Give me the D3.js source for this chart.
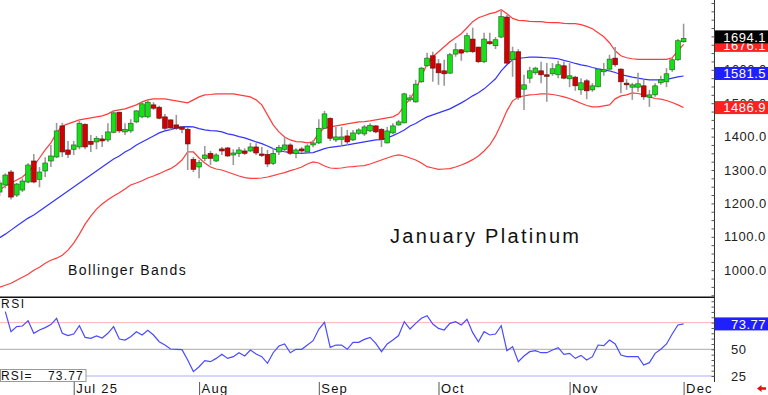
<!DOCTYPE html>
<html>
<head>
<meta charset="utf-8">
<script src="https://cdn.jsdelivr.net/npm/d3@7"></script>
<style>
  html, body { margin: 0; padding: 0; background: #fff; }
  svg { display: block; font-family: "Liberation Sans", Arial, sans-serif; }
</style>
</head>
<body>
<svg id="chart" width="768" height="395"></svg>
<script>
// bars run from index -1 (half hidden at the left edge) to 119 (Dec 1)
const firstIdx = -1;

const openP = [1234,1255,1294,1225,1240,1264,1327,1272,1297,1327,
  1339,1432,1360,1362,1369,1437,1386,1384,1393,1390,
  1413,1473,1414,1417,1444,1459,1459,1495,1488,1459,
  1450,1435,1429,1422,1332,1309,1335,1350,1327,1363,
  1366,1345,1350,1357,1357,1369,1348,1347,1320,1354,
  1362,1375,1350,1363,1354,1375,1381,1425,1455,1390,
  1392,1402,1390,1410,1408,1417,1432,1422,1381,1411,
  1435,1441,1510,1504,1564,1612,1642,1618,1597,1590,
  1647,1660,1654,1692,1668,1624,1684,1672,1698,1758,
  1630,1654,1542,1575,1591,1597,1585,1588,1585,1612,
  1573,1578,1540,1567,1540,1549,1594,1602,1635,1602,
  1560,1548,1548,1552,1518,1525,1561,1564,1600,1630,
  1684];
const highP = [1270,1290,1300,1261,1275,1320,1348,1309,1338,1375,
  1441,1441,1387,1387,1447,1439,1405,1402,1405,1440,
  1480,1474,1440,1452,1479,1504,1510,1503,1492,1468,
  1451,1465,1431,1429,1339,1330,1372,1357,1350,1369,
  1369,1362,1369,1365,1381,1380,1369,1360,1365,1375,
  1399,1380,1365,1369,1377,1390,1452,1477,1457,1429,
  1429,1420,1420,1425,1435,1440,1435,1425,1429,1440,
  1450,1531,1525,1570,1609,1651,1654,1632,1630,1650,
  1680,1662,1711,1726,1669,1711,1711,1698,1777,1765,
  1669,1662,1585,1609,1609,1624,1620,1620,1627,1624,
  1620,1582,1575,1572,1560,1605,1620,1645,1668,1605,
  1572,1561,1591,1570,1540,1560,1582,1605,1635,1692,
  1738];
const lowP = [1222,1245,1212,1219,1234,1260,1260,1248,1279,1309,
  1336,1339,1336,1345,1362,1362,1354,1362,1369,1384,
  1410,1411,1405,1411,1440,1455,1455,1480,1452,1420,
  1420,1420,1410,1300,1294,1275,1327,1315,1324,1345,
  1339,1315,1339,1345,1354,1345,1339,1309,1315,1345,
  1354,1345,1335,1351,1351,1368,1378,1423,1387,1384,
  1375,1375,1387,1405,1402,1414,1410,1369,1380,1408,
  1432,1440,1504,1501,1561,1609,1564,1555,1552,1588,
  1639,1627,1651,1650,1620,1620,1675,1662,1695,1618,
  1579,1510,1480,1560,1585,1560,1504,1582,1575,1572,
  1548,1537,1525,1512,1534,1548,1582,1594,1609,1530,
  1540,1510,1534,1510,1489,1519,1555,1548,1594,1627,
  1681];
const closeP = [1261,1285,1219,1258,1267,1315,1264,1294,1321,1342,
  1417,1354,1347,1375,1440,1369,1377,1395,1387,1414,
  1471,1417,1422,1440,1477,1498,1503,1485,1455,1425,
  1426,1425,1422,1378,1302,1322,1345,1335,1345,1357,
  1342,1351,1360,1350,1369,1351,1344,1318,1350,1368,
  1375,1350,1360,1357,1372,1381,1425,1468,1395,1399,
  1399,1384,1411,1420,1429,1434,1414,1392,1417,1432,
  1444,1528,1516,1557,1605,1635,1605,1591,1588,1645,
  1660,1650,1702,1654,1624,1692,1678,1690,1759,1620,
  1654,1518,1555,1597,1605,1585,1582,1603,1615,1575,
  1582,1552,1561,1537,1552,1602,1600,1632,1615,1564,
  1555,1555,1558,1519,1525,1552,1570,1588,1630,1687,
  1694.1];

// Bollinger bands (20, 2), same bar indexing
const upperBand = [1240,1252,1261,1270,1279,1294,1312,1336,1360,1381,
  1411,1432,1438,1444,1450,1453,1456,1459,1462,1468,
  1477,1480,1483,1489,1495,1504,1510,1513,1513,1513,
  1510,1507,1504,1501,1510,1519,1525,1526,1528,1528,
  1528,1528,1525,1522,1519,1510,1495,1465,1435,1414,
  1399,1390,1385,1384,1381,1384,1411,1426,1429,1432,
  1435,1438,1441,1444,1445,1447,1450,1453,1456,1459,
  1468,1492,1513,1540,1579,1618,1639,1654,1669,1684,
  1696,1708,1726,1744,1756,1762,1768,1772,1780,1768,
  1754,1748,1747,1745,1744,1744,1742,1741,1741,1739,
  1738,1738,1735,1730,1723,1711,1699,1681,1657,1642,
  1636,1633,1631,1631,1631,1631,1631,1631,1636,1657,
  1676.1];
const midBand = [1097,1108,1120,1132,1144,1156,1165,1177,1189,1201,
  1213,1225,1237,1249,1261,1273,1285,1297,1309,1321,
  1333,1342,1354,1363,1375,1384,1393,1402,1411,1417,
  1421,1426,1429,1430,1429,1424,1420,1418,1417,1414,
  1408,1405,1400,1396,1390,1384,1379,1372,1364,1358,
  1355,1352,1351,1350,1351,1352,1358,1364,1368,1370,
  1372,1375,1378,1381,1384,1387,1390,1391,1396,1403,
  1411,1420,1432,1439,1450,1459,1465,1471,1477,1483,
  1492,1501,1511,1522,1531,1543,1558,1573,1597,1615,
  1630,1634,1636,1638,1638,1637,1636,1635,1633,1628,
  1624,1619,1615,1612,1607,1603,1600,1597,1592,1586,
  1582,1578,1575,1572,1570,1570,1570,1571,1575,1579,
  1581.5];
const lowerBand = [949,955,961,970,979,988,1000,1009,1021,1030,
  1036,1045,1060,1081,1108,1138,1162,1183,1198,1211,
  1222,1232,1243,1255,1261,1268,1276,1282,1289,1297,
  1304,1315,1330,1354,1354,1336,1321,1309,1303,1300,
  1294,1288,1282,1277,1275,1275,1276,1279,1283,1288,
  1292,1298,1303,1309,1318,1324,1321,1312,1306,1305,
  1306,1309,1310,1312,1313,1318,1324,1330,1336,1342,
  1345,1342,1336,1330,1321,1310,1306,1302,1303,1304,
  1309,1315,1322,1331,1342,1357,1375,1402,1438,1477,
  1507,1518,1522,1525,1526,1528,1528,1526,1523,1519,
  1514,1507,1500,1493,1489,1489,1492,1495,1513,1522,
  1525,1531,1529,1525,1519,1514,1512,1508,1502,1495,
  1486.9];

// RSI, bars 0..119
const rsi = [85.2,66.5,71.2,71.8,76.8,65.0,68.1,70.3,73.1,79.0,
  65.0,62.8,64.3,72.1,61.2,60.3,62.5,60.6,65.0,71.2,
  59.6,58.7,61.8,66.5,63.4,67.8,63.4,57.1,54.0,50.3,
  50.0,49.7,40.0,29.1,33.7,39.4,38.4,41.5,45.3,41.5,
  43.1,46.8,43.7,49.3,45.6,43.1,36.9,46.8,53.1,55.0,
  46.8,50.0,50.0,54.0,58.1,68.7,75.2,51.8,54.0,54.0,
  50.0,56.5,56.5,59.3,61.2,55.6,47.8,55.0,58.7,62.9,
  75.9,69.0,74.3,79.0,81.5,73.7,69.6,68.1,74.3,75.9,
  72.8,78.1,65.6,57.1,66.5,63.4,64.3,72.1,48.7,52.5,
  38.4,43.7,47.8,48.7,46.8,46.8,49.3,51.5,45.3,46.2,
  41.5,44.3,40.0,43.1,54.0,53.4,58.7,55.0,44.7,43.1,
  43.1,43.1,35.3,37.5,46.2,50.0,55.0,64.3,72.8,73.77];

const monthIdx = [12, 34, 55, 76, 99, 119];
const monthLabels = ["Jul 25", "Aug", "Sep", "Oct", "Nov", "Dec"];
const priceTicks = [1000, 1100, 1200, 1300, 1400, 1500, 1600, 1700];
const rsiTicks = [25, 50];

const svg = d3.select("#chart");
const plotRight = 714;
const mainBottom = 297;
const axisBottomY = 382;
const lastIdx = 119;

const x = d3.scaleLinear().domain([0, lastIdx]).range([5.3, 683.6]);
const y = d3.scaleLinear().domain([1000, 1700]).range([270.2, 36.4]);
const yR = d3.scaleLinear().domain([25, 75]).range([376, 322.6]);

const bars = openP.map((o, k) => ({
  i: k + firstIdx, open: o, high: highP[k], low: lowP[k], close: closeP[k]
}));

svg.append("defs").append("clipPath").attr("id", "mainClip")
  .append("rect").attr("x", 0).attr("y", 0).attr("width", plotRight).attr("height", mainBottom);

const main = svg.append("g").attr("clip-path", "url(#mainClip)");

// bands
const bandLine = d3.line().x((d, k) => x(k + firstIdx)).y(d => y(d));
main.append("path").datum(upperBand).attr("d", bandLine)
  .attr("fill", "none").attr("stroke", "#ff3c3c").attr("stroke-width", 1.2);
main.append("path").datum(lowerBand).attr("d", bandLine)
  .attr("fill", "none").attr("stroke", "#ff3c3c").attr("stroke-width", 1.2);
main.append("path").datum(midBand).attr("d", bandLine)
  .attr("fill", "none").attr("stroke", "#3434ff").attr("stroke-width", 1.2);

// candles
main.append("g").selectAll("line").data(bars).enter().append("line")
  .attr("x1", d => x(d.i)).attr("x2", d => x(d.i))
  .attr("y1", d => y(d.high)).attr("y2", d => y(d.low))
  .attr("stroke", "#9a9a9a").attr("stroke-width", 1.6);

main.append("g").selectAll("rect").data(bars).enter().append("rect")
  .attr("x", d => x(d.i) - 2.4)
  .attr("width", 4.8)
  .attr("y", d => y(Math.max(d.open, d.close)))
  .attr("height", d => Math.max(1.5, Math.abs(y(d.open) - y(d.close))))
  .attr("fill", d => d.close >= d.open ? "#16e016" : "#d40000")
  .attr("stroke", d => d.close >= d.open ? "#1d5a1d" : "#5a1010")
  .attr("stroke-width", 0.6);

main.append("text").attr("x", 68).attr("y", 275)
  .style("font-size", "14px").style("letter-spacing", "1.4px").attr("fill", "#111")
  .text("Bollinger Bands");
main.append("text").attr("x", 390).attr("y", 243)
  .style("font-size", "20px").style("letter-spacing", "2.3px").attr("fill", "#111")
  .text("January Platinum");

// RSI panel
svg.append("line").attr("x1", 0).attr("x2", plotRight).attr("y1", yR(75)).attr("y2", yR(75))
  .attr("stroke", "#ffb4b4").attr("stroke-width", 1);
svg.append("line").attr("x1", 0).attr("x2", plotRight).attr("y1", yR(50)).attr("y2", yR(50))
  .attr("stroke", "#aaaaaa").attr("stroke-width", 1);
svg.append("line").attr("x1", 86).attr("x2", plotRight).attr("y1", yR(25)).attr("y2", yR(25))
  .attr("stroke", "#d6d6fb").attr("stroke-width", 2);

svg.append("path").datum(rsi)
  .attr("d", d3.line().x((d, k) => x(k)).y(d => yR(d)))
  .attr("fill", "none").attr("stroke", "#4a4aff").attr("stroke-width", 1.2);

svg.append("text").attr("x", 1).attr("y", 308)
  .style("font-size", "12px").style("letter-spacing", "1.5px").attr("fill", "#111").text("RSI");

const rsiBox = svg.append("g");
rsiBox.append("rect").attr("x", 0.5).attr("y", 369.5).attr("width", 85.5).attr("height", 12)
  .attr("fill", "#fff").attr("stroke", "#999");
rsiBox.append("text").attr("x", 1).attr("y", 380)
  .style("font-size", "12px").style("letter-spacing", "1.2px").attr("fill", "#111").text("RSI=");
rsiBox.append("text").attr("x", 84).attr("y", 380).attr("text-anchor", "end")
  .style("font-size", "12px").style("letter-spacing", "1.2px").attr("fill", "#111")
  .text(d3.format(".2f")(rsi[rsi.length - 1]));

// separator and right axis line
svg.append("line").attr("x1", 0).attr("x2", plotRight).attr("y1", mainBottom + 0.3).attr("y2", mainBottom + 0.3)
  .attr("stroke", "#111").attr("stroke-width", 1.6);
svg.append("line").attr("x1", plotRight + 0.5).attr("x2", plotRight + 0.5).attr("y1", 0).attr("y2", axisBottomY)
  .attr("stroke", "#333").attr("stroke-width", 1);

// price axis: minor ticks + labels
const minorTicks = d3.range(925, 1826, 25);
const tickG = svg.append("g").attr("transform", `translate(${plotRight + 0.5},0)`)
  .call(d3.axisLeft(y).tickValues(minorTicks.filter(v => y(v) > 1 && y(v) < mainBottom))
    .tickSize(3).tickFormat(""));
tickG.select(".domain").remove();
tickG.selectAll("line").attr("stroke", "#555");

const labG = svg.append("g").attr("transform", `translate(${plotRight},0)`)
  .call(d3.axisRight(y).tickValues(priceTicks).tickSize(0).tickPadding(10).tickFormat(d3.format(".1f")));
labG.select(".domain").remove();
labG.selectAll("text").style("font-size", "13px").style("letter-spacing", "0.5px")
  .style("font-family", "\"Liberation Sans\", Arial, sans-serif").attr("fill", "#222");

// RSI axis
const rTickG = svg.append("g").attr("transform", `translate(${plotRight + 0.5},0)`)
  .call(d3.axisLeft(yR).tickValues(d3.range(25, 100, 5).filter(v => yR(v) > mainBottom + 2))
    .tickSize(3).tickFormat(""));
rTickG.select(".domain").remove();
rTickG.selectAll("line").attr("stroke", "#555");

const rLabG = svg.append("g").attr("transform", `translate(${plotRight},0)`)
  .call(d3.axisRight(yR).tickValues(rsiTicks).tickSize(0).tickPadding(17));
rLabG.select(".domain").remove();
rLabG.selectAll("text").style("font-size", "13px").style("letter-spacing", "0.5px")
  .style("font-family", "\"Liberation Sans\", Arial, sans-serif").attr("fill", "#222");

// last value boxes
const valueBoxes = [
  { v: lowerBand[lowerBand.length - 1], scale: y, fill: "#ff2020", shift: 0 },
  { v: midBand[midBand.length - 1], scale: y, fill: "#2020ff", shift: -2.5 },
  { v: upperBand[upperBand.length - 1], scale: y, fill: "#ff2020", shift: 1 },
  { v: closeP[closeP.length - 1], scale: y, fill: "#000", shift: -1.5 },
  { v: rsi[rsi.length - 1], scale: yR, fill: "#2020ff", shift: 0, fmt: ".2f" }
];
const vb = svg.append("g").selectAll("g").data(valueBoxes).enter().append("g");
vb.append("rect").attr("x", plotRight + 1).attr("width", 768 - plotRight - 1)
  .attr("y", d => d.scale(d.v) + d.shift - 6.5).attr("height", 13).attr("fill", d => d.fill);
vb.append("text").attr("x", 766).attr("text-anchor", "end")
  .attr("y", d => d.scale(d.v) + d.shift).attr("dy", "0.36em")
  .style("font-size", "13px").style("letter-spacing", "0.5px").attr("fill", "#fff")
  .text(d => d3.format(d.fmt || ".1f")(d.v));

// month axis
const xAx = svg.append("g").attr("transform", `translate(0,${axisBottomY})`)
  .call(d3.axisBottom(x).tickValues(monthIdx).tickSize(13)
    .tickFormat((d, k) => monthLabels[k]));
xAx.select(".domain").remove();
xAx.selectAll("line").attr("stroke", "#555");
xAx.selectAll("text").attr("x", 2).attr("y", 6.5).attr("dy", "0.36em")
  .attr("text-anchor", "start").attr("fill", "#111")
  .style("font-size", "13px").style("letter-spacing", "1.2px")
  .style("font-family", "\"Liberation Sans\", Arial, sans-serif");

// little red arrow, bottom right
svg.append("path")
  .attr("d", "M757,388.5 L761.5,385 L761.5,387.2 L766,387.2 L766,389.8 L761.5,389.8 L761.5,392 Z")
  .attr("fill", "#e01010");
</script>
</body>
</html>
